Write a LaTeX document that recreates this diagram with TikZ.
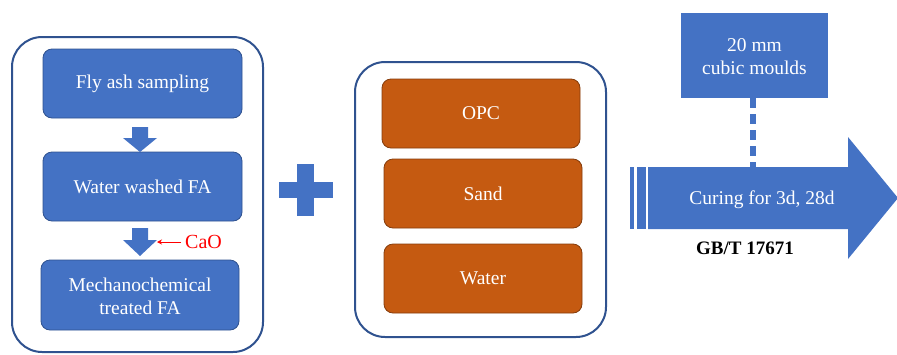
\documentclass[tikz,border=0pt]{standalone}
\usepackage{fontspec}
\setmainfont{Liberation Serif}
\newfontfamily\tnr{Liberation Serif}
\usetikzlibrary{arrows.meta}
\definecolor{ofblue}{RGB}{68,114,196}
\definecolor{ofborder}{RGB}{47,82,143}
\definecolor{oforange}{RGB}{197,90,17}
\definecolor{oforborder}{RGB}{132,60,12}
\definecolor{ofred}{RGB}{255,0,0}
\begin{document}
\begin{tikzpicture}[x=1pt,y=-1pt,
  outer/.style={draw=ofborder, line width=2pt, rounded corners=30pt},
  bluebox/.style={fill=ofblue, draw=ofborder, line width=0.8pt, rounded corners=9pt},
  orangebox/.style={fill=oforange, draw=oforborder, line width=0.8pt, rounded corners=9pt},
  wtext/.style={text=white, font=\tnr\fontsize{19.5}{23}\selectfont, align=center},
]
\useasboundingbox (0,0) rectangle (897,354);
% left group
\draw[outer] (12,37) rectangle (263,352);
\draw[bluebox] (43,49) rectangle (242,118);
\node[wtext] (fly) at (142.5,84) {Fly ash sampling};
\draw[bluebox] (43,152) rectangle (242,221);
\node[wtext] (wash) at (142.5,187) {Water washed FA};
\draw[bluebox] (41,260) rectangle (239,330);
\node[wtext] (mech) at (140,296) {Mechanochemical\\treated FA};
\fill[ofblue] (132,127) -- (148,127) -- (148,138) -- (157,138) -- (140,152) -- (123,138) -- (132,138) -- cycle;
\fill[ofblue] (132,228) -- (148,228) -- (148,240) -- (157,240) -- (140,256) -- (123,240) -- (132,240) -- cycle;
\node[text=ofred, font=\tnr\fontsize{20}{22}\selectfont, anchor=west, inner sep=0pt] (cao) at (185,242) {CaO};
\coordinate (caoend) at (157,242);
\draw[ofred, line width=1pt, -{Stealth[length=5pt,width=5pt]}] ([xshift=-4pt]cao.west) -- (caoend);
% plus
\fill[ofblue] (297,164) rectangle (314,216);
\fill[ofblue] (279,182) rectangle (333,198);
% middle group
\draw[outer] (355,62) rectangle (606,337);
\draw[orangebox] (382,79) rectangle (580,148);
\node[wtext] (opc) at (481,113.5) {OPC};
\draw[orangebox] (384,159) rectangle (582,228);
\node[wtext] (sand) at (483,193.5) {Sand};
\draw[orangebox] (384,244) rectangle (582,313);
\node[wtext] (water) at (483,278.5) {Water};
% right group
\fill[ofblue] (681,13) rectangle (828,98);
\node[wtext] (mould) at (754.5,57) {20 mm\\cubic moulds};
\coordinate (dtop) at (753,98);
\coordinate (dbot) at (753,167);
\draw[ofblue, line width=6pt, dash pattern=on 10pt off 6pt] (dtop) -- (dbot);
\fill[ofblue] (648,167) -- (848,167) -- (848,137) -- (898,198) -- (848,259) -- (848,229) -- (648,229) -- cycle;
\fill[ofblue] (630,167) rectangle (634,229);
\fill[ofblue] (637,167) rectangle (646,229);
\node[wtext] (cure) at (762,200) {Curing for 3d, 28d};
\node[font=\tnr\fontsize{19}{22}\selectfont\bfseries] (gb) at (745,248) {GB/T 17671};
\end{tikzpicture}
\end{document}
